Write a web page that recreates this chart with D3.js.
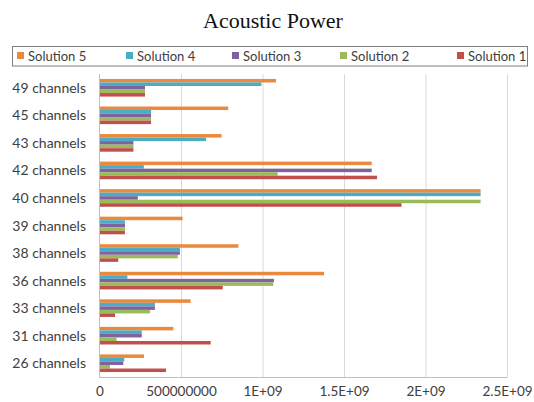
<!DOCTYPE html>
<html>
<head>
<meta charset="utf-8">
<script src="https://cdn.jsdelivr.net/npm/d3@7/dist/d3.min.js"></script>
<style>
  html, body { margin: 0; padding: 0; background: #fff; }
  svg { display: block; }
</style>
</head>
<body>
<svg id="chart" width="534" height="402"></svg>
<script>
// Channel configurations, top to bottom
const categories = ["49 channels", "45 channels", "43 channels", "42 channels", "40 channels",
  "39 channels", "38 channels", "36 channels", "33 channels", "31 channels", "26 channels"];

// Series in drawing order inside each group (top to bottom)
const seriesNames = ["Solution 5", "Solution 4", "Solution 3", "Solution 2", "Solution 1"];
const seriesColors = ["#ea8a3e", "#4bacc6", "#7f63a1", "#9bbb59", "#c0504d"];

const solution5 = [1.08e9, 0.787e9, 0.746e9, 1.667e9, 2.335e9, 0.507e9, 0.849e9, 1.375e9, 0.556e9, 0.45e9, 0.27e9];
const solution4 = [0.99e9, 0.313e9, 0.65e9, 0.269e9, 2.335e9, 0.153e9, 0.491e9, 0.168e9, 0.337e9, 0.256e9, 0.149e9];
const solution3 = [0.276e9, 0.313e9, 0.205e9, 1.667e9, 0.232e9, 0.153e9, 0.49e9, 1.067e9, 0.337e9, 0.256e9, 0.143e9];
const solution2 = [0.276e9, 0.313e9, 0.205e9, 1.09e9, 2.335e9, 0.153e9, 0.477e9, 1.063e9, 0.307e9, 0.102e9, 0.061e9];
const solution1 = [0.276e9, 0.313e9, 0.205e9, 1.70e9, 1.85e9, 0.153e9, 0.112e9, 0.753e9, 0.092e9, 0.679e9, 0.405e9];

const xTicks = [0, 5e8, 1e9, 1.5e9, 2e9, 2.5e9];
const xTickLabels = ["0", "500000000", "1E+09", "1.5E+09", "2E+09", "2.5E+09"];

const seriesValues = [solution5, solution4, solution3, solution2, solution1];

const svg = d3.select("#chart");
const plotLeft = 100, plotRight = 507.5, plotTop = 74, plotBottom = 377;
const labelFont = "Lato, 'Open Sans', sans-serif";

const x = d3.scaleLinear().domain([0, 2.5e9]).range([plotLeft, plotRight]);
const y = d3.scaleBand().domain(categories).range([plotTop, plotBottom]).paddingInner(0.36).paddingOuter(0.18);
const yInner = d3.scaleBand().domain(seriesNames).range([0, y.bandwidth()]).padding(0);

// Title
svg.append("text")
  .attr("x", 273).attr("y", 28)
  .attr("text-anchor", "middle")
  .attr("font-family", "'Liberation Serif', 'Times New Roman', serif")
  .attr("font-size", 22)
  .attr("fill", "#111")
  .text("Acoustic Power");

// Legend
const legendX = [17, 126, 232, 340, 457];
svg.append("rect")
  .attr("x", 12.5).attr("y", 46.5).attr("width", 515).attr("height", 19.5)
  .attr("fill", "none").attr("stroke", "#7f7f7f").attr("stroke-width", 1);
const legend = svg.append("g").selectAll("g").data(seriesNames).join("g")
  .attr("transform", (d, i) => `translate(${legendX[i]},0)`);
legend.append("rect")
  .attr("x", 0).attr("y", 52).attr("width", 7).attr("height", 7)
  .attr("fill", (d, i) => seriesColors[i]);
legend.append("text")
  .attr("x", 11).attr("y", 61)
  .attr("font-family", labelFont).attr("font-size", 13)
  .attr("fill", "#404040")
  .text(d => d);

// Vertical gridlines
svg.append("g").selectAll("line").data(xTicks.slice(1)).join("line")
  .attr("x1", d => x(d)).attr("x2", d => x(d))
  .attr("y1", plotTop).attr("y2", plotBottom)
  .attr("stroke", "#d9d9d9").attr("stroke-width", 1);

// Bars
const groups = svg.append("g").selectAll("g").data(categories).join("g")
  .attr("transform", d => `translate(0,${y(d)})`);
groups.selectAll("rect")
  .data((c, ci) => seriesNames.map((s, si) => ({ s, si, v: seriesValues[si][ci] })))
  .join("rect")
  .attr("x", x(0))
  .attr("y", d => yInner(d.s))
  .attr("width", d => x(d.v) - x(0))
  .attr("height", yInner.bandwidth())
  .attr("fill", d => seriesColors[d.si]);

// Axis lines
svg.append("line").attr("x1", plotLeft).attr("x2", plotRight).attr("y1", plotBottom + 0.5).attr("y2", plotBottom + 0.5)
  .attr("stroke", "#bfbfbf");
svg.append("line").attr("x1", plotLeft - 0.5).attr("x2", plotLeft - 0.5).attr("y1", plotTop).attr("y2", plotBottom + 1)
  .attr("stroke", "#bfbfbf");

// Category labels
svg.append("g").selectAll("text").data(categories).join("text")
  .attr("x", 86)
  .attr("y", d => y(d) + y.bandwidth() / 2 + 5)
  .attr("text-anchor", "end")
  .attr("font-family", labelFont).attr("font-size", 14)
  .attr("fill", "#404040")
  .text(d => d);

// Value axis labels
svg.append("g").selectAll("text").data(xTicks).join("text")
  .attr("x", d => x(d))
  .attr("y", 396)
  .attr("text-anchor", "middle")
  .attr("font-family", labelFont).attr("font-size", 13.5)
  .attr("fill", "#404040")
  .text((d, i) => xTickLabels[i]);
</script>
</body>
</html>
